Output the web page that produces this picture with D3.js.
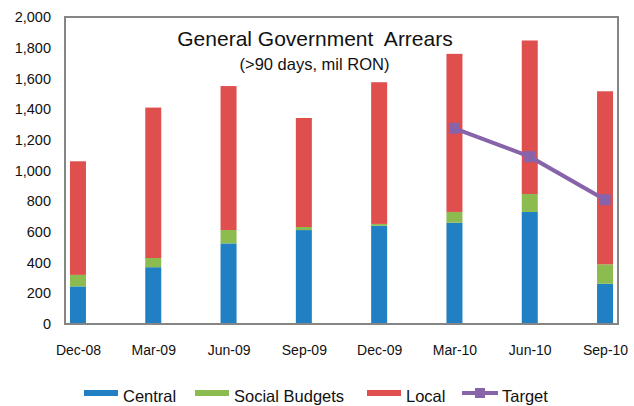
<!DOCTYPE html>
<html>
<head>
<meta charset="utf-8">
<style>
    body { margin: 0; background: #fff; }
    text { font-family: "Liberation Sans", Arial, sans-serif; fill: #111; }
</style>
<script src="https://cdn.jsdelivr.net/npm/d3@7"></script>
</head>
<body>
<script>
// data (mil RON)
var periods = ["Dec-08", "Mar-09", "Jun-09", "Sep-09", "Dec-09", "Mar-10", "Jun-10", "Sep-10"];
var central = [245, 370, 525, 612, 640, 660, 730, 262];
var social  = [75, 60, 87, 20, 12, 70, 117, 127];
var local   = [740, 980, 938, 710, 923, 1030, 1000, 1127];
var targetPeriods = ["Mar-10", "Jun-10", "Sep-10"];
var targetValues  = [1275, 1090, 810];
var yTicks = [0, 200, 400, 600, 800, 1000, 1200, 1400, 1600, 1800, 2000];

var W = 634, H = 406;
var plotL = 65, plotR = 618, plotT = 17, plotB = 324;

var colors = { central: "#2080c3", social: "#8cbb4f", local: "#de4f4e", target: "#8763a9" };

var svg = d3.select("body").append("svg")
    .attr("width", W)
    .attr("height", H);

var x = d3.scalePoint()
    .domain(periods)
    .range([plotL, plotR])
    .padding(0.172);

var y = d3.scaleLinear()
    .domain([0, 2000])
    .range([plotB, plotT]);

//stack the three series
var rows = periods.map(function(p, i) {
    return { period: p, central: central[i], social: social[i], local: local[i] };
});
var stack = d3.stack().keys(["central", "social", "local"]);
var layers = stack(rows);

var barW = 16;
svg.selectAll("g.layer")
    .data(layers)
    .enter()
    .append("g")
    .attr("class", "layer")
    .attr("fill", function(d) { return colors[d.key]; })
    .selectAll("rect")
    .data(function(d) { return d; })
    .enter()
    .append("rect")
    .attr("x", function(d) { return x(d.data.period) - barW / 2; })
    .attr("width", barW)
    .attr("y", function(d) { return y(d[1]); })
    .attr("height", function(d) { return y(d[0]) - y(d[1]); });

//target line
var tdata = targetPeriods.map(function(p, i) { return { period: p, v: targetValues[i] }; });
var line = d3.line()
    .x(function(d) { return x(d.period); })
    .y(function(d) { return y(d.v); });
svg.append("path")
    .datum(tdata)
    .attr("d", line)
    .attr("fill", "none")
    .attr("stroke", colors.target)
    .attr("stroke-width", 4);
svg.selectAll("rect.marker")
    .data(tdata)
    .enter()
    .append("rect")
    .attr("class", "marker")
    .attr("x", function(d) { return x(d.period) - 5.5; })
    .attr("y", function(d) { return y(d.v) - 5.5; })
    .attr("width", 11)
    .attr("height", 11)
    .attr("fill", colors.target);

//frame
svg.append("rect")
    .attr("x", plotL)
    .attr("y", plotT)
    .attr("width", plotR - plotL)
    .attr("height", plotB - plotT)
    .attr("fill", "none")
    .attr("stroke", "#858585")
    .attr("stroke-width", 2);

//y axis
var yAxis = d3.axisLeft(y)
    .tickValues(yTicks)
    .tickSize(0)
    .tickPadding(14)
    .tickFormat(d3.format(","));
var gy = svg.append("g")
    .attr("transform", "translate(" + plotL + ",0)")
    .call(yAxis);
gy.select(".domain").remove();
gy.selectAll("text")
    .attr("font-size", 14.5)
    .attr("font-family", null);

//x axis
var xAxis = d3.axisBottom(x).tickSize(0).tickPadding(21);
var gx = svg.append("g")
    .attr("transform", "translate(0," + plotB + ")")
    .call(xAxis);
gx.select(".domain").remove();
gx.selectAll("text")
    .attr("font-size", 14)
    .attr("font-family", null);

//titles
svg.append("text")
    .attr("x", 315)
    .attr("y", 45.5)
    .attr("text-anchor", "middle")
    .attr("font-size", 21)
    .attr("xml:space", "preserve")
    .text("General Government  Arrears");
svg.append("text")
    .attr("x", 314.5)
    .attr("y", 69.5)
    .attr("text-anchor", "middle")
    .attr("font-size", 16.5)
    .text("(>90 days, mil RON)");

//legend
var legend = [
    { name: "Central", key: "central", x: 84, type: "rect" },
    { name: "Social Budgets", key: "social", x: 195, type: "rect" },
    { name: "Local", key: "local", x: 367, type: "rect" },
    { name: "Target", key: "target", x: 462, type: "line" }
];
var lg = svg.selectAll("g.legend")
    .data(legend)
    .enter()
    .append("g")
    .attr("class", "legend")
    .attr("transform", function(d) { return "translate(" + d.x + ",0)"; });
lg.filter(function(d) { return d.type == "rect"; })
    .append("rect")
    .attr("y", 390)
    .attr("width", 34)
    .attr("height", 6)
    .attr("fill", function(d) { return colors[d.key]; });
lg.filter(function(d) { return d.type == "line"; })
    .append("line")
    .attr("x1", 0).attr("x2", 36)
    .attr("y1", 393).attr("y2", 393)
    .attr("stroke", colors.target)
    .attr("stroke-width", 4);
lg.filter(function(d) { return d.type == "line"; })
    .append("rect")
    .attr("x", 13).attr("y", 388)
    .attr("width", 10).attr("height", 10)
    .attr("fill", colors.target);
lg.append("text")
    .attr("x", function(d) { return d.type == "line" ? 40 : 39; })
    .attr("y", 402)
    .attr("font-size", 16.5)
    .text(function(d) { return d.name; });
</script>
</body>
</html>
